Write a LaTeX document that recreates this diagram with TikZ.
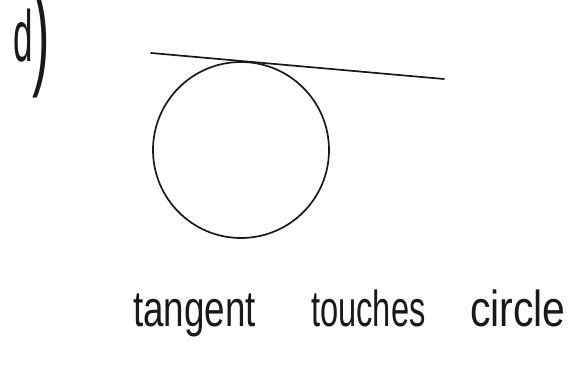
\documentclass[tikz,border=0pt]{standalone}
\usepackage{fontspec}
\setmainfont{Liberation Sans}
\usepackage{graphicx}
\begin{document}
\begin{tikzpicture}[x=1pt,y=-1pt,
  ink/.style={draw=black!90,line width=1.7pt,line cap=round},
  word/.style={anchor=base west,inner sep=0pt,font=\fontsize{46}{46}\selectfont,text=black!90}]
\useasboundingbox (0,0) rectangle (571,366);
\node[anchor=base west,inner sep=0pt,text=black!90] (lab) at (13,62)
  {\scalebox{0.7}[1.45]{\fontsize{50}{50}\selectfont d}\raisebox{-12pt}[50pt][25pt]{\scalebox{0.55}[1.25]{\fontsize{95}{95}\selectfont )}}};
\node[circle,ink,minimum size=176pt,inner sep=0pt] (c) at (241,150) {};
\coordinate (t1) at (151,53);
\coordinate (t2) at (444,79);
\draw[ink] (t1) -- (t2);
\node[word] (w1) at (133,327) {\scalebox{0.8}[1.1]{tangent}};
\node[word] (w2) at (311,327) {\scalebox{0.71}[1.1]{touches}};
\node[word] (w3) at (470,327) {\scalebox{0.89}[1.1]{circle}};
\end{tikzpicture}
\end{document}
